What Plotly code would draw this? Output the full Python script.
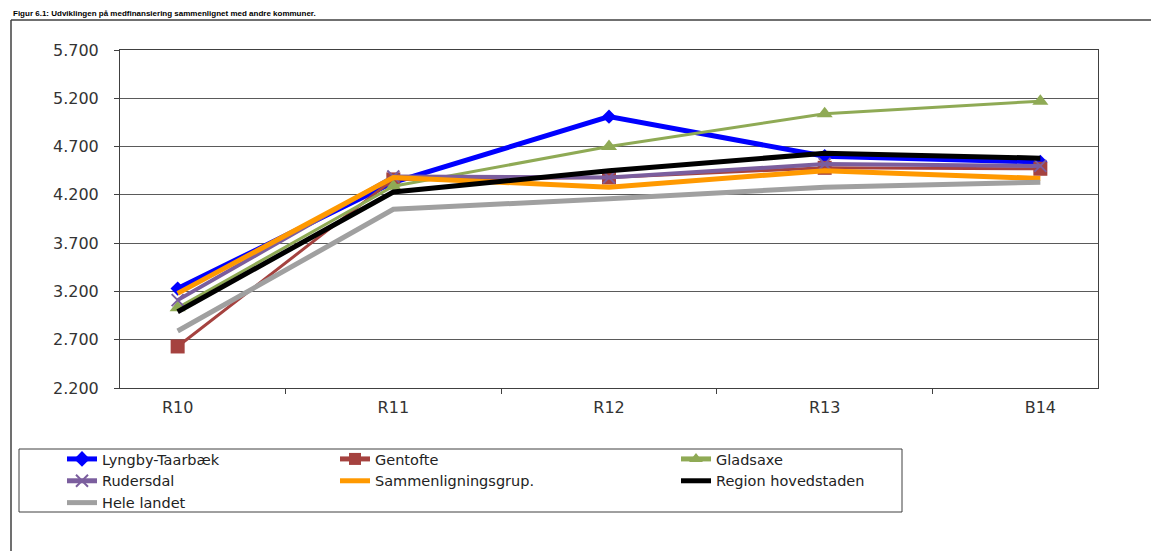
import plotly.graph_objects as go

categories = ["R10", "R11", "R12", "R13", "B14"]
lyngby = [3230, 4330, 5010, 4600, 4540]
gentofte = [2630, 4360, 4380, 4480, 4470]
gladsaxe = [3030, 4290, 4700, 5040, 5170]
rudersdal = [3110, 4390, 4380, 4520, 4500]
sammen = [3180, 4380, 4280, 4450, 4370]
region = [2990, 4230, 4450, 4630, 4580]
hele = [2790, 4050, 4160, 4280, 4330]

W, H = 1159, 551
OFF = 8  # page body margin
L, R, T, B = 112, 69, 42, 171
PW, PH = W - L - R, H - T - B


def px(x):
    return (x - OFF - L) / PW


def py(y):
    return (H - B - (y - OFF)) / PH


FONT = "DejaVu Sans"

series = [
    ("Lyngby-Taarbæk", lyngby, "#0000FF", 5, "diamond", 11, "legend"),
    ("Gentofte", gentofte, "#A5423F", 3, "square", 14, "legend2"),
    ("Gladsaxe", gladsaxe, "#8FAA55", 3, "triangle-up", 14, "legend3"),
    ("Rudersdal", rudersdal, "#7B5E9E", 4, "x-thin-open", 12, "legend"),
    ("Sammenligningsgrup.", sammen, "#FF9900", 5, None, 0, "legend2"),
    ("Region hovedstaden", region, "#000000", 5, None, 0, "legend3"),
    ("Hele landet", hele, "#A0A0A0", 5, None, 0, "legend"),
]

fig = go.Figure()
for name, vals, color, lw, sym, ms, leg in series:
    kw = dict(x=categories, y=vals, name=name, legend=leg,
              line=dict(color=color, width=lw))
    if sym:
        kw["mode"] = "lines+markers"
        mk = dict(symbol=sym, size=ms, color=color)
        if sym.startswith("x"):
            mk["line"] = dict(color=color, width=2)
        kw["marker"] = mk
    else:
        kw["mode"] = "lines"
    fig.add_trace(go.Scatter(**kw))

legfont = dict(family=FONT, size=14.5, color="#222222")
leg_common = dict(font=legfont, bgcolor="rgba(0,0,0,0)", borderwidth=0,
                  yanchor="top", xanchor="left", orientation="v",
                  itemsizing="constant", tracegroupgap=0)

fig.update_layout(
    width=W, height=H,
    margin=dict(l=L, r=R, t=T, b=B),
    paper_bgcolor="white", plot_bgcolor="white",
    separators=",.",
    showlegend=True,
    legend=dict(x=px(62), y=py(443), **leg_common),
    legend2=dict(x=px(335), y=py(443), **leg_common),
    legend3=dict(x=px(676), y=py(443), **leg_common),
    xaxis=dict(
        type="category", showgrid=False, showline=True, linecolor="#404040",
        linewidth=1, mirror=True, ticks="outside", tickson="boundaries",
        ticklen=5, tickcolor="#404040", ticklabelstandoff=5,
        tickfont=dict(family=FONT, size=16, color="#333333"),
    ),
    yaxis=dict(
        range=[2200, 5700], tick0=2200, dtick=500, tickformat=",.0f",
        showgrid=True, gridcolor="#5a5a5a", gridwidth=1,
        showline=True, linecolor="#404040", linewidth=1, mirror=True,
        ticks="outside", ticklen=5, tickcolor="#404040",
        ticklabelstandoff=12, zeroline=False,
        tickfont=dict(family=FONT, size=16, color="#333333"),
    ),
    shapes=[
        # outer frame (left and top edges)
        dict(type="line", xref="paper", yref="paper",
             x0=px(11), y0=py(20), x1=px(1180), y1=py(20),
             line=dict(color="#404040", width=1.5)),
        dict(type="line", xref="paper", yref="paper",
             x0=px(11), y0=py(20), x1=px(11), y1=py(580),
             line=dict(color="#404040", width=1.5)),
        # legend box
        dict(type="rect", xref="paper", yref="paper",
             x0=px(19), y0=py(449), x1=px(902), y1=py(512),
             line=dict(color="#404040", width=1), fillcolor="rgba(0,0,0,0)"),
    ],
    annotations=[
        dict(text="<b>Figur 6.1: Udviklingen på medfinansiering sammenlignet med andre kommuner.</b>",
             xref="paper", yref="paper", x=px(12), y=py(19.5), xanchor="left",
             yanchor="bottom", showarrow=False, borderpad=0,
             font=dict(family="Liberation Sans", size=8, color="#000000")),
    ],
)

fig.write_html("out.html")
